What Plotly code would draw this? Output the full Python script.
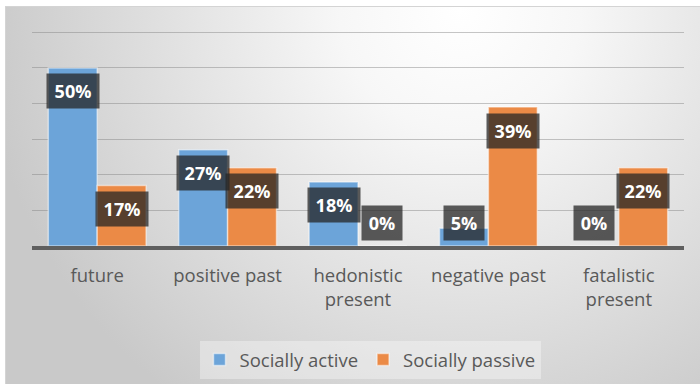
import base64
import plotly.graph_objects as go

# Time-perspective profile shares for two groups
categories = ["future", "positive past", "hedonistic<br>present", "negative past", "fatalistic<br>present"]
socially_active = [0.50, 0.27, 0.18, 0.05, 0.00]
socially_passive = [0.17, 0.22, 0.00, 0.39, 0.22]
series_names = ["Socially active", "Socially passive"]

BLUE = "#6CA4D9"
ORANGE = "#EB8A46"
TEXT_GREY = "#595959"
FONT = "Open Sans"

W, H = 700, 384
grid_top_val = 0.6            # highest gridline
y_max = 0.612                 # small headroom so the top gridline is drawn
px_per_unit = 356.7
B = 138
plot_h = round(y_max * px_per_unit)
L, R, T = 32, 16, H - B - plot_h
plot_w = W - L - R
bargap = 0.25

# Soft radial-gradient chart background with a thin frame
svg = f"""<svg xmlns='http://www.w3.org/2000/svg' width='{W}' height='{H}' viewBox='0 0 {W} {H}' preserveAspectRatio='none'>
<defs><radialGradient id='g' gradientUnits='userSpaceOnUse' cx='460' cy='10' r='480'>
<stop offset='0' stop-color='#ffffff'/><stop offset='0.25' stop-color='#f7f7f7'/><stop offset='1' stop-color='#c9c9c9'/></radialGradient></defs>
<rect x='0' y='0' width='{W}' height='{H}' fill='#ffffff'/>
<rect x='5.5' y='6.5' width='{W}' height='{H}' fill='url(#g)' stroke='#d4d4d4' stroke-width='1'/>
</svg>"""
bg_uri = "data:image/svg+xml;base64," + base64.b64encode(svg.encode()).decode()

fig = go.Figure()
for name, vals, col in [(series_names[0], socially_active, BLUE),
                        (series_names[1], socially_passive, ORANGE)]:
    fig.add_trace(go.Bar(
        name=name, x=list(range(len(categories))), y=vals,
        marker=dict(color=col, line=dict(color="rgba(255,255,255,0.5)", width=1.5)),
        hoverinfo="skip",
    ))

# Value labels: dark translucent boxes near the bar tops (or resting above the baseline)
half_box = 23.5 / px_per_unit
bar_offset = (1 - bargap) / 4
annotations = []
for s, vals in enumerate([socially_active, socially_passive]):
    dx = -bar_offset if s == 0 else bar_offset
    for i, v in enumerate(vals):
        label = f"{round(v * 100)}%"
        annotations.append(dict(
            x=i + dx, y=max(v - half_box, half_box), xref="x", yref="y",
            text=f"<b>{label}</b>", showarrow=False,
            font=dict(family=FONT, size=18, color="white"),
            bgcolor="rgba(38,38,38,0.75)", borderpad=6,
            width=12 * len(label) + 4, height=22,
            xanchor="center", yanchor="middle",
        ))

fig.update_layout(
    width=W, height=H,
    margin=dict(l=L, r=R, t=T, b=B, autoexpand=False),
    paper_bgcolor="white", plot_bgcolor="rgba(0,0,0,0)",
    barmode="group", bargap=bargap, bargroupgap=0,
    font=dict(family=FONT, size=18.5, color=TEXT_GREY),
    images=[dict(source=bg_uri, xref="paper", yref="paper",
                 x=-L / plot_w, y=1 + T / plot_h, sizex=W / plot_w, sizey=H / plot_h,
                 xanchor="left", yanchor="top", sizing="stretch", layer="below")],
    xaxis=dict(
        tickmode="array", tickvals=list(range(len(categories))), ticktext=categories,
        range=[-0.5, len(categories) - 0.5],
        showline=True, linecolor="#5f5f5f", linewidth=4,
        showgrid=False, zeroline=False,
        ticks="outside", ticklen=10, tickcolor="rgba(0,0,0,0)",
        tickfont=dict(family=FONT, size=18.5, color=TEXT_GREY),
        fixedrange=True,
    ),
    yaxis=dict(
        range=[0, y_max], tick0=0, dtick=0.1, showticklabels=False,
        showgrid=True, gridcolor="rgba(128,128,128,0.45)", gridwidth=1.3,
        zeroline=False, fixedrange=True,
    ),
    legend=dict(
        orientation="h", x=(370 - L) / plot_w, xanchor="center",
        y=(plot_h - (360 - T)) / plot_h, yanchor="middle",
        bgcolor="rgba(255,255,255,0.35)", itemwidth=30,
        font=dict(family=FONT, size=18.5, color=TEXT_GREY),
        itemclick=False, itemdoubleclick=False,
    ),
    annotations=annotations,
    showlegend=True,
)

fig.write_html("out.html")
